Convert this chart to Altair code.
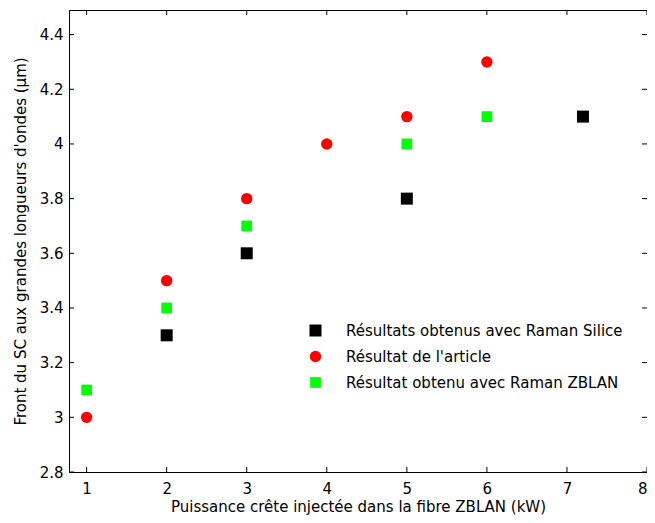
import altair as alt
import pandas as pd

series_names = ["Résultats obtenus avec Raman Silice", "Résultat de l'article", "Résultat obtenu avec Raman ZBLAN"]

silice_x = [2, 3, 5, 7.2]
silice_y = [3.3, 3.6, 3.8, 4.1]

article_x = [1, 2, 3, 4, 5, 6]
article_y = [3.0, 3.5, 3.8, 4.0, 4.1, 4.3]

zblan_x = [1, 2, 3, 5, 6]
zblan_y = [3.1, 3.4, 3.7, 4.0, 4.1]

x_ticks = [1, 2, 3, 4, 5, 6, 7, 8]
y_ticks = [2.8, 3.0, 3.2, 3.4, 3.6, 3.8, 4.0, 4.2, 4.4]

rows = []
for name, xs, ys in zip(series_names, [silice_x, article_x, zblan_x], [silice_y, article_y, zblan_y]):
    for a, b in zip(xs, ys):
        rows.append({"serie": name, "P": a, "L": b})
df = pd.DataFrame(rows)

W, H = 578, 462
FONT = "DejaVu Sans"

xscale = alt.Scale(domain=[0.78, 8], nice=False, zero=False)
yscale = alt.Scale(domain=[2.8, 4.49], nice=False, zero=False)

points = alt.Chart(df).mark_point(filled=True, opacity=1).encode(
    x=alt.X("P:Q", scale=xscale,
            axis=alt.Axis(values=x_ticks, title="Puissance crête injectée dans la fibre ZBLAN (kW)",
                          grid=False, ticks=False, labelPadding=9, titlePadding=3, format="~g")),
    y=alt.Y("L:Q", scale=yscale,
            axis=alt.Axis(values=y_ticks, title="Front du SC aux grandes longueurs d'ondes (µm)",
                          grid=False, ticks=False, labelPadding=6, titlePadding=11, format="~g")),
    color=alt.Color("serie:N", scale=alt.Scale(domain=series_names, range=["#000000", "#ff0000", "#00ff00"]),
                    legend=alt.Legend(title=None, orient="none", legendX=239, legendY=313,
                                      labelFontSize=15, labelFont=FONT, labelColor="black",
                                      symbolSize=130, labelOffset=23, rowPadding=10,
                                      symbolStrokeWidth=0, labelLimit=400)),
    shape=alt.Shape("serie:N", scale=alt.Scale(domain=series_names, range=["square", "circle", "square"])),
    size=alt.Size("serie:N", scale=alt.Scale(domain=series_names, range=[144, 115, 144]), legend=None),
)

xt = pd.DataFrame({"v": x_ticks})
yt = pd.DataFrame({"v": y_ticks})

tick_bottom = alt.Chart(xt).mark_rule(color="black").encode(x=alt.X("v:Q", scale=xscale), y=alt.value(H), y2=alt.value(H - 5))
tick_top = alt.Chart(xt).mark_rule(color="black").encode(x=alt.X("v:Q", scale=xscale), y=alt.value(0), y2=alt.value(5))
tick_left = alt.Chart(yt).mark_rule(color="black").encode(y=alt.Y("v:Q", scale=yscale), x=alt.value(0), x2=alt.value(5))
tick_right = alt.Chart(yt).mark_rule(color="black").encode(y=alt.Y("v:Q", scale=yscale), x=alt.value(W), x2=alt.value(W - 5))

chart = alt.layer(points, tick_bottom, tick_top, tick_left, tick_right).properties(
    width=W, height=H,
    background="white",
    autosize=alt.AutoSizeParams(type="none"),
    padding={"left": 61, "top": 2, "right": 0, "bottom": 43},
).configure_view(stroke="black", strokeWidth=1).configure_axis(
    domainColor="black", labelColor="black", titleColor="black",
    labelFont=FONT, titleFont=FONT, labelFontSize=15, titleFontSize=15,
    titleFontWeight="normal",
)

chart.save("out.html", embed_options={"renderer": "svg", "actions": False})
